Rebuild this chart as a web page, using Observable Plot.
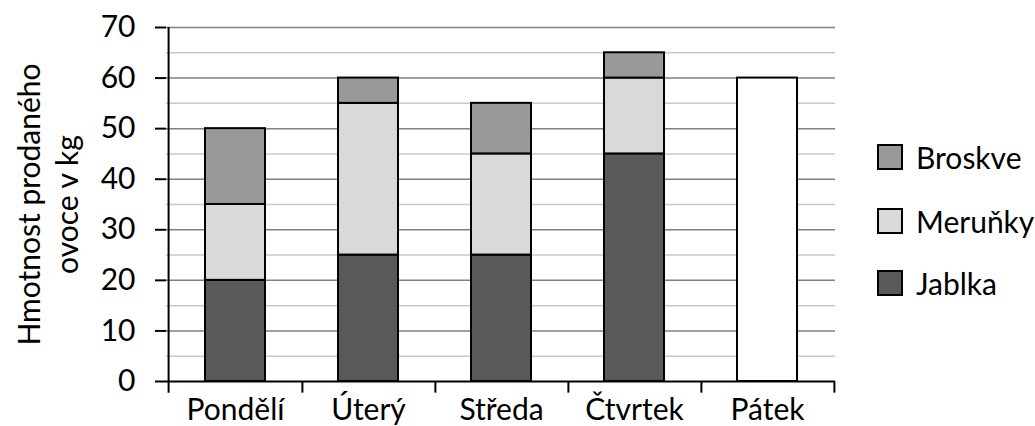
<!DOCTYPE html>
<html><head><meta charset="utf-8">
<script src="https://cdn.jsdelivr.net/npm/d3@7"></script>
<script src="https://cdn.jsdelivr.net/npm/@observablehq/plot@0.6"></script>
<style>
body{margin:0;background:#fff;font-family:Lato,sans-serif;}
#wrap{position:relative;width:1035px;height:426px;overflow:hidden}
.legend{position:absolute;left:877px;top:0;font-size:30px;color:#000}
.item{position:absolute;left:0;display:flex;align-items:center;white-space:nowrap}
.sw{width:26px;height:26px;border:2px solid #000;box-sizing:border-box;margin-right:13px}
</style></head><body><div id="wrap"></div>
<script>
const days = ["Pondělí","Úterý","Středa","Čtvrtek","Pátek"];
const fruits = ["Jablka","Meruňky","Broskve"];
const jablka = [20,25,25,45,null];
const merunky = [15,30,20,15,null];
const broskve = [15,5,10,5,null];
const unknownDay = "Pátek";
const unknownTotal = 60;
const yTicks = [0,10,20,30,40,50,60,70];
const minorTicks = [5,15,25,35,45,55,65];
const fillColors = ["#595959","#d9d9d9","#999999","#ffffff"];
const yLabel = "Hmotnost prodaného\novoce v kg";

const rows = [];
days.forEach((d,i)=>{
  [jablka,merunky,broskve].forEach((s,k)=>{ if(s[i]!=null) rows.push({day:d, fruit:fruits[k], value:s[i]}); });
});
rows.push({day:unknownDay, fruit:"Neznámé", value:unknownTotal});

const W=1035,H=426,mL=166,mR=200,mT=27,mB=45;
const step=(W-mL-mR)/days.length;
const FS=30;

const chart = Plot.plot({
  width:W,height:H,marginLeft:mL,marginRight:mR,marginTop:mT,marginBottom:mB,
  style:{fontFamily:"Lato",fontSize:FS+"px",color:"#000",background:"#fff",overflow:"visible"},
  x:{domain:days,paddingInner:0.55,paddingOuter:0.275},
  y:{domain:[0,70]},
  color:{domain:[...fruits,"Neznámé"],range:fillColors},
  marks:[
    Plot.ruleY(minorTicks,{stroke:"#c8c8c8",strokeWidth:1.5}),
    Plot.ruleY(yTicks.filter(t=>t>0),{stroke:"#808080",strokeWidth:1.5}),
    Plot.barY(rows,{x:"day",y:"value",fill:"fruit",stroke:"#000",strokeWidth:2}),
    Plot.ruleY([0],{stroke:"#000",strokeWidth:2}),
    Plot.ruleX([days[0]],{dx:-step/2,y1:-2.3,y2:70,stroke:"#000",strokeWidth:2}),
    Plot.ruleX(days,{dx:step/2,y1:-2.3,y2:0,stroke:"#000",strokeWidth:2}),
    Plot.axisY({ticks:yTicks,tickSize:11,tickPadding:20,strokeWidth:2,label:null,fontSize:FS}),
    Plot.axisX({tickSize:0,tickPadding:17,label:null,fontSize:FS}),
    Plot.text([yLabel],{frameAnchor:"left",dx:-120,rotate:-90,lineHeight:1.27,fontSize:FS,textAnchor:"middle",fill:"#000"})
  ]
});
const wrap=document.getElementById("wrap");
wrap.appendChild(chart);

const legend=document.createElement("div");
legend.className="legend";
const legendOrder=["Broskve","Meruňky","Jablka"];
const tops=[157,221,283];
legendOrder.forEach((f,i)=>{
  const it=document.createElement("div");it.className="item";
  it.style.top=(tops[i]-20)+"px";it.style.height="40px";
  const sw=document.createElement("div");sw.className="sw";sw.style.background=fillColors[fruits.indexOf(f)];
  const t=document.createElement("span");t.textContent=f;
  it.appendChild(sw);it.appendChild(t);legend.appendChild(it);
});
wrap.appendChild(legend);
</script></body></html>
